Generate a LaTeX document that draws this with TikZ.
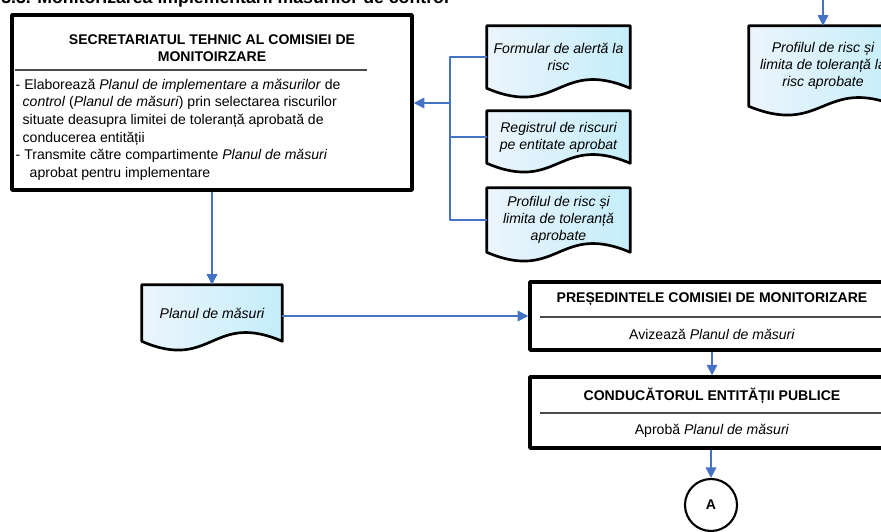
\documentclass[tikz,border=0pt]{standalone}
\usepackage{fontspec}
\setmainfont{Liberation Sans}
\usetikzlibrary{arrows.meta,backgrounds}
\definecolor{flowblue}{RGB}{68,114,196}
\definecolor{docA}{RGB}{236,244,252}
\definecolor{docB}{RGB}{196,238,250}
\tikzset{
	bigbox/.style={draw,line width=2.4pt,inner sep=0pt},
	boxtitle/.style={font=\bfseries\fontsize{10}{12}\selectfont,align=center,inner sep=1pt},
	boxtext/.style={font=\fontsize{10}{12}\selectfont,align=center,inner sep=1pt},
	docnode/.style={font=\itshape\fontsize{10}{12}\selectfont,align=center,inner sep=0pt},
	docline/.style={line width=1.9pt,line join=round,left color=docA,right color=docB},
	sepline/.style={line width=0.9pt,black!70},
	link/.style={line width=1.2pt,flowblue},
	flow/.style={link,-{Triangle[length=7.5pt,width=7.5pt]}}
}
\newcommand{\docshape}[1]{%
	\draw[docline] (#1.north west) -- (#1.north east) -- (#1.south east)
	.. controls ([yshift=\wave]#1.south) and ([yshift=-\wave]#1.south) .. (#1.south west) -- cycle;}
\begin{document}
\begin{tikzpicture}[x=0.025cm,y=-0.025cm,line join=round]
		%==Thông số
		\def\wave{0.76cm}
		%==============
		\useasboundingbox (0,0) rectangle (881,532);
		\node[anchor=base west,inner sep=0pt,font=\bfseries\fontsize{12.6}{14}\selectfont] (head) at (1,4) {3.3. Monitorizarea implementării măsurilor de control};
		%==Secretariatul
		\node[bigbox,minimum width=10cm,minimum height=4.375cm] (sec) at (212,102.5) {};
		\node[boxtitle] (sectitle) at (212,48) {SECRETARIATUL TEHNIC AL COMISIEI DE\\MONITOIRZARE};
		\draw[sepline] (15,70) -- (367,70);
		\node[boxtext,font=\fontsize{10}{12.6}\selectfont,align=left,anchor=north west] (sectext) at (14,77) {- Elaborează \textit{Planul de implementare a măsurilor} de\\
			\hspace*{0.5em}\textit{control} (\textit{Planul de măsuri}) prin selectarea riscurilor\\
			\hspace*{0.5em}situate deasupra limitei de toleranță aprobată de\\
			\hspace*{0.5em}conducerea entității\\
			- Transmite către compartimente \textit{Planul de măsuri}\\
			\hspace*{1em}aprobat pentru implementare};
		%==Documente
		\node[docnode,minimum width=3.575cm,minimum height=1.55cm] (form) at (558.5,57) {Formular de alertă la\\risc};
		\node[docnode,minimum width=3.575cm,minimum height=1.3cm] (reg) at (558.5,137) {Registrul de riscuri\\pe entitate aprobat};
		\node[docnode,minimum width=3.575cm,minimum height=1.6cm] (prof) at (558.5,220) {Profilul de risc și\\limita de toleranță\\aprobate};
		\node[docnode,minimum width=3.5cm,minimum height=1.4cm] (plan) at (212,313) {Planul de măsuri};
		\node[docnode,minimum width=3.7cm,minimum height=2cm] (rdoc) at (823,66) {Profilul de risc și\\limita de toleranță la\\risc aprobate};
		\begin{scope}[on background layer]
			\foreach \d in {form,reg,prof,plan,rdoc} \docshape{\d};
		\end{scope}
		%==Președintele și conducătorul
		\node[bigbox,minimum width=9.5cm,minimum height=1.7cm] (pres) at (720,316) {};
		\node[boxtitle] (prestitle) at (712,299) {PREȘEDINTELE COMISIEI DE MONITORIZARE};
		\draw[sepline] (540,317) -- (885,317);
		\node[boxtext] (prestext) at (712,334) {Avizează \textit{Planul de măsuri}};
		\node[bigbox,minimum width=9.5cm,minimum height=1.775cm] (cond) at (720,412.5) {};
		\node[boxtitle] (condtitle) at (712,396) {CONDUCĂTORUL ENTITĂȚII PUBLICE};
		\draw[sepline] (540,413) -- (885,413);
		\node[boxtext] (condtext) at (712,431) {Aprobă \textit{Planul de măsuri}};
		\node[draw,circle,line width=1.5pt,minimum size=1.3cm,inner sep=0pt,font=\bfseries\fontsize{10}{12}\selectfont] (conA) at (711,505) {A};
		%==Legături
		\coordinate (bus) at (450,103);
		\coordinate (rtop) at (823,-20);
		\draw[link] (form.west) -| (bus |- prof.west) -- (prof.west);
		\draw[link] (reg.west) -- (reg.west -| bus);
		\draw[flow] (bus) -- (bus -| sec.east);
		\draw[flow] (sec.south) -- (plan.north);
		\draw[flow] (plan.east |- pres.west) -- (pres.west);
		\draw[flow] (pres.south -| condtitle) -- (cond.north -| condtitle);
		\draw[flow] (cond.south -| conA) -- (conA.north);
		\draw[flow] (rtop) -- (rdoc.north);
		\end{tikzpicture}
\end{document}
